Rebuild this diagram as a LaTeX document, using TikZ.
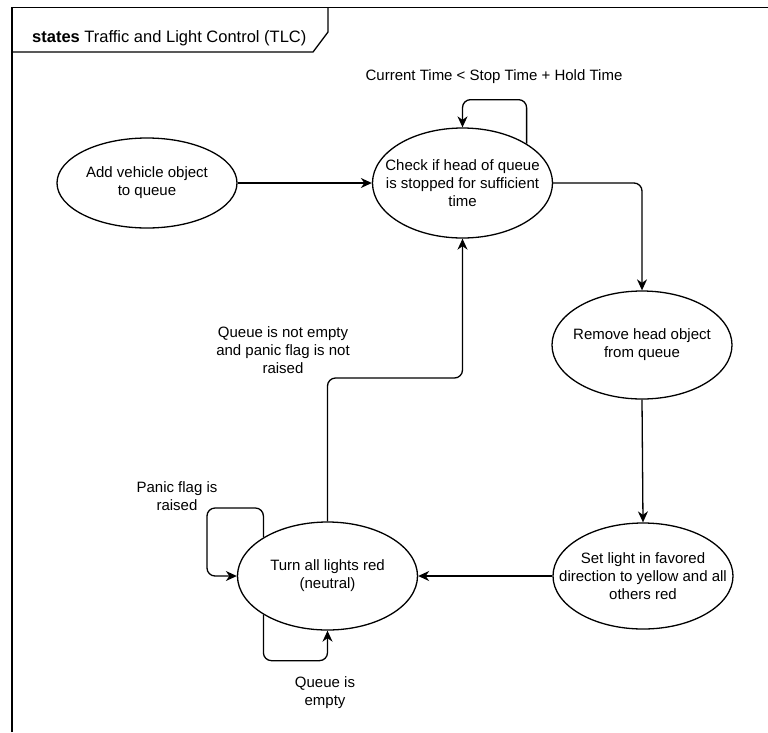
\documentclass[tikz,border=0pt]{standalone}
\usepackage{fontspec}
\setmainfont{Liberation Sans}
\usetikzlibrary{shapes.geometric,arrows.meta}

\tikzset{
  lbl/.style={align=center, inner sep=0pt, font=\fontsize{15}{18}\selectfont},
  state/.style={ellipse, draw, line width=1.3pt, minimum width=180pt,
    inner sep=0pt},
  flow/.style={line width=1.3pt, rounded corners=8pt,
    -{Stealth[length=11pt,width=10pt,inset=3.5pt]}},
  frame/.style={line width=1.3pt}
}

\begin{document}
\begin{tikzpicture}[x=1pt, y=-1pt]
\useasboundingbox (0,0) rectangle (768,732);

% diagram frame with its name tab
\draw[frame] (12,732) -- (12,7.5) -- (768,7.5);
\draw[frame] (12,52) -- (313,52) -- (328,32) -- (328,7.5);
\node[lbl, anchor=base west, font=\fontsize{16.5}{20}\selectfont] (title) at (32,42)
  {\textbf{states} Traffic and Light Control (TLC)};

% states (outline sized explicitly, text laid on top as a centred label)
\node[state, minimum height=90pt,
  label={[lbl]center:Add vehicle object\\to queue}] (add) at (147,183) {};
\node[state, minimum height=110pt,
  label={[lbl]center:Check if head of queue\\is stopped for sufficient\\time}] (check) at (462.5,183) {};
\node[state, minimum height=108pt,
  label={[lbl]center:Remove head object\\from queue}] (remove) at (642,345) {};
\node[state, minimum height=106pt,
  label={[lbl]center:Set light in favored\\direction to yellow and all\\others red}] (set) at (643,576) {};
\node[state, minimum height=108pt,
  label={[lbl]center:Turn all lights red\\(neutral)}] (turn) at (327.5,576) {};

% transitions
\draw[flow] (add) -- (check);
\draw[flow] (check.east) -| (remove.north);
\draw[flow] (remove.south) -- (set.north);
\draw[flow] (set.west) -- (turn.east);

\coordinate (ret) at (0,378);
\draw[flow] (turn.north) -- (turn.north |- ret) -- (check.south |- ret) -- (check.south);

% self loops
\draw[flow] (check.north east) -- ++(0,-44) -| (check.north);
\coordinate (pl) at (207,508);
\draw[flow] (turn.north west) |- (pl) |- (turn.west);
\draw[flow] (turn.south west) -- ++(0,46) -| (turn.south);

% guard labels
\node[lbl] (g1) at (494,77)  {Current Time < Stop Time + Hold Time};
\node[lbl] (g2) at (283,350) {Queue is not empty\\and panic flag is not\\raised};
\node[lbl] (g3) at (177,496) {Panic flag is\\raised};
\node[lbl] (g4) at (325,693) {Queue is\\empty};
\end{tikzpicture}
\end{document}
